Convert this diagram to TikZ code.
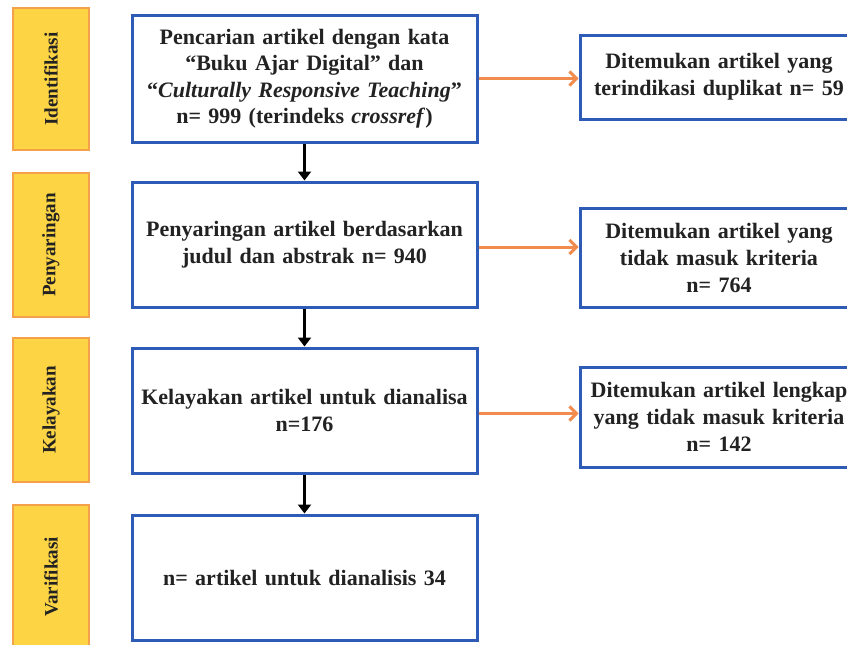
\documentclass[tikz,border=0pt]{standalone}
\usepackage{fontspec}
\setmainfont{Liberation Serif}
\usetikzlibrary{arrows.meta}
\definecolor{boxblue}{HTML}{2E5BB5}
\definecolor{sidefill}{HTML}{FDD443}
\definecolor{sideedge}{HTML}{F5A04A}
\definecolor{arrorange}{HTML}{F28C4E}
\definecolor{txt}{HTML}{222222}
\begin{document}
\begin{tikzpicture}[x=1pt,y=-1pt,
  mainbox/.style={draw=boxblue, line width=3pt, fill=white, minimum width=345pt,
    minimum height=125pt, text width=340pt, align=center, inner sep=0pt,
    font=\bfseries\fontsize{22}{26.5}\selectfont, text=txt},
  rightbox/.style={draw=boxblue, line width=3pt, fill=white, minimum width=278pt,
    text width=275pt, align=center, inner sep=0pt,
    font=\bfseries\fontsize{22}{27}\selectfont, text=txt},
  sidebox/.style={draw=sideedge, fill=sidefill, line width=2.5pt, rotate=90,
    minimum height=76pt, inner sep=0pt,
    font=\bfseries\fontsize{19}{21}\selectfont, text=txt},
  downarrow/.style={line width=2.8pt, black, -{Triangle[length=9pt,width=13pt]}},
  sidearrow/.style={line width=3pt, arrorange, -{Straight Barb[length=7pt,width=14pt]}}
]
\useasboundingbox (0,0) rectangle (847,645);
\clip (0,0) rectangle (847,645);
\fill[white] (0,0) rectangle (847,645);

% side labels
\node[sidebox, minimum width=142pt] (s1) at (51,79) {Identifikasi};
\node[sidebox, minimum width=144pt] (s2) at (51,245) {Penyaringan};
\node[sidebox, minimum width=144pt] (s3) at (51,410) {Kelayakan};
\node[sidebox, minimum width=144pt] (s4) at (51,577) {Varifikasi};

% main column
\node[mainbox, minimum height=127pt] (m1) at (304.5,78.5)
  {Pencarian artikel dengan kata\\
   “Buku Ajar Digital” dan\\
   “\textit{Culturally Responsive Teaching}”\\
   n= 999 (terindeks \textit{crossref})};
\node[mainbox] (m2) at (304.5,244.5)
  {Penyaringan artikel berdasarkan\\ judul dan abstrak n= 940};
\node[mainbox] (m3) at (304.5,410.5)
  {Kelayakan artikel untuk dianalisa\\ n=176};
\node[mainbox] (m4) at (304.5,577.5)
  {n= artikel untuk dianalisis 34};

% right column
\node[rightbox, minimum height=84pt] (r1) at (719,77)
  {Ditemukan artikel yang\\ terindikasi duplikat n= 59};
\node[rightbox, minimum height=99pt] (r2) at (719,257.5)
  {Ditemukan artikel yang\\ tidak masuk kriteria\\ n= 764};
\node[rightbox, minimum height=100pt] (r3) at (719,417)
  {Ditemukan artikel lengkap\\ yang tidak masuk kriteria\\ n= 142};

% connectors
\draw[downarrow] (m1.south) -- (m2.north);
\draw[downarrow] (m2.south) -- (m3.north);
\draw[downarrow] (m3.south) -- (m4.north);

\draw[sidearrow] (m1.east) -- (m1.east -| r1.west);
\draw[sidearrow] ([yshift=-2.5pt]m2.east) -- ([yshift=-2.5pt]m2.east -| r2.west);
\draw[sidearrow] ([yshift=-3pt]m3.east) -- ([yshift=-3pt]m3.east -| r3.west);
\end{tikzpicture}
\end{document}
